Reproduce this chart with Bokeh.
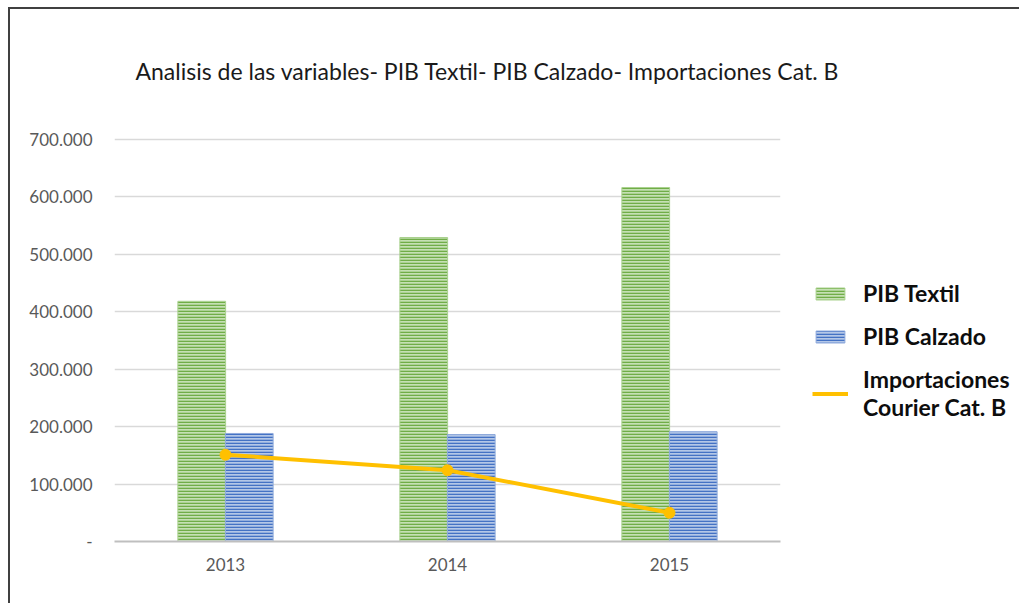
from bokeh.plotting import figure
from bokeh.models import FactorRange, FixedTicker, Legend, LegendItem, ColumnDataSource, InlineStyleSheet
from bokeh.transform import dodge
from bokeh.embed import file_html
from bokeh.resources import INLINE

years = ["2013", "2014", "2015"]
pib_textil = [418000, 529000, 616000]
pib_calzado = [188000, 186000, 191000]
importaciones = [151000, 124000, 50000]
y_ticks = [0, 100000, 200000, 300000, 400000, 500000, 600000, 700000]
y_tick_labels = ["-", "100.000", "200.000", "300.000", "400.000", "500.000", "600.000", "700.000"]
title_text = "Analisis de las variables- PIB Textil- PIB Calzado- Importaciones Cat. B"

src = ColumnDataSource(dict(x=years, textil=pib_textil, calzado=pib_calzado, imp=importaciones))

p = figure(frame_width=666, frame_height=404, x_range=FactorRange(*years, range_padding=0),
           y_range=(0, 703000), output_backend="svg", toolbar_location=None,
           min_border_left=114, min_border_right=239, min_border_top=137, min_border_bottom=62)
p.stylesheets = [InlineStyleSheet(
    css=":host { box-shadow: inset 8px 7px 0 0 #ffffff, inset 10px 9px 0 0 #404040; }")]

p.title.text = title_text
p.title.text_font = "Lato"
p.title.text_font_style = "normal"
p.title.text_font_size = "23px"
p.title.text_color = "#1a1a1a"
p.title.align = "left"
p.title.offset = 21
p.title.standoff = 106

p.outline_line_color = None
p.background_fill_color = "white"
p.border_fill_color = None

bw = 0.215
r1 = p.vbar(x=dodge("x", -0.107, range=p.x_range), top="textil", width=bw, source=src,
            fill_color="#c5e0b4", line_color="#a9d18e", line_width=1,
            hatch_pattern="-", hatch_color="#70ad47", hatch_scale=3, hatch_weight=1.6)
r2 = p.vbar(x=dodge("x", 0.107, range=p.x_range), top="calzado", width=bw, source=src,
            fill_color="#b4c7e7", line_color="#8faadc", line_width=1,
            hatch_pattern="-", hatch_color="#4472c4", hatch_scale=3, hatch_weight=1.6)
r3 = p.line(x="x", y="imp", source=src, line_color="#ffc000", line_width=4)
p.scatter(x="x", y="imp", source=src, size=11, fill_color="#ffc000", line_color="#ffc000")

p.yaxis.ticker = FixedTicker(ticks=y_ticks)
p.yaxis.major_label_overrides = {t: l for t, l in zip(y_ticks, y_tick_labels)}
p.yaxis.axis_line_color = None
p.yaxis.major_tick_line_color = None
p.yaxis.minor_tick_line_color = None
p.yaxis.major_label_standoff = 16
p.yaxis.major_label_text_font = "Lato"
p.yaxis.major_label_text_font_size = "17px"
p.yaxis.major_label_text_color = "#595959"

p.xaxis.axis_line_color = "#bfbfbf"
p.xaxis.axis_line_width = 2
p.xaxis.major_tick_line_color = None
p.xaxis.minor_tick_line_color = None
p.xaxis.major_label_standoff = 10
p.xaxis.major_label_text_font = "Lato"
p.xaxis.major_label_text_font_size = "17px"
p.xaxis.major_label_text_color = "#595959"

p.xgrid.grid_line_color = None
p.ygrid.grid_line_color = "#d9d9d9"
p.ygrid.grid_line_width = 1.5

legend = Legend(items=[LegendItem(label="PIB Textil", renderers=[r1]),
                       LegendItem(label="PIB Calzado", renderers=[r2]),
                       LegendItem(label="Importaciones\nCourier Cat. B", renderers=[r3])],
                location=(32, 120), orientation="vertical")
legend.border_line_color = None
legend.background_fill_alpha = 0
legend.label_text_font = "Lato"
legend.label_text_font_style = "bold"
legend.label_text_font_size = "23px"
legend.label_text_color = "#0d0d0d"
legend.glyph_width = 36
legend.glyph_height = 15
legend.label_standoff = 15
legend.spacing = 15
legend.margin = 0
legend.padding = 0
p.add_layout(legend, "right")

open("out.html", "w").write(file_html(p, INLINE))
